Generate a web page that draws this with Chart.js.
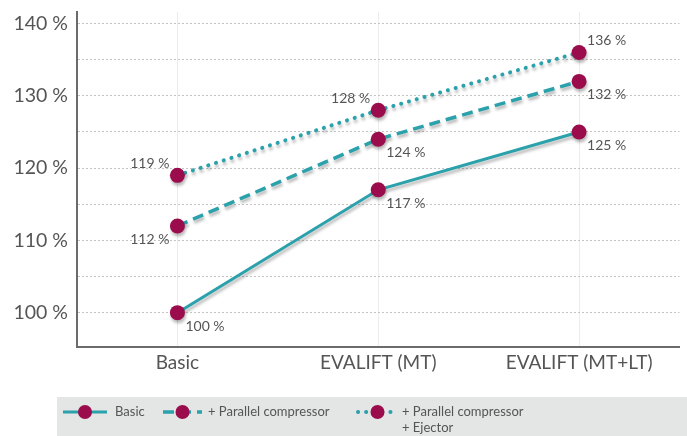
<!DOCTYPE html>
<html>
<head>
<meta charset="utf-8">
<script src="https://cdn.jsdelivr.net/npm/chart.js@4"></script>
<style>
html,body{margin:0;padding:0;background:#fff;}
#wrap{width:687px;height:436px;position:relative;}
</style>
</head>
<body>
<div id="wrap"><canvas id="c" width="687" height="436"></canvas></div>
<script>
const categories = ['Basic', 'EVALIFT (MT)', 'EVALIFT (MT+LT)'];
const basicValues = [100, 117, 125];
const parallelValues = [112, 124, 132];
const ejectorValues = [119, 128, 136];
const seriesLabels = [['Basic'], ['+ Parallel compressor'], ['+ Parallel compressor', '+ Ejector']];
const yTickValues = [100, 105, 110, 115, 120, 125, 130, 135, 140];

const TEAL = '#2ba1ab';
const DOT = '#9a0c4c';
const TEXT = '#555555';
const FONT = 'Lato, "Open Sans", sans-serif';

// label placement per dataset point: t/b = above/below, l/r = left/right
const labelPlacement = [
  ['br', 'br', 'br'],
  ['bl', 'br', 'br'],
  ['tl', 'tl', 'tr']
];

const shadowPlugin = {
  id: 'shadow',
  beforeDatasetDraw(chart) {
    const ctx = chart.ctx;
    ctx.save();
    ctx.shadowColor = 'rgba(0,0,0,0.28)';
    ctx.shadowOffsetX = 1;
    ctx.shadowOffsetY = 3;
    ctx.shadowBlur = 3;
  },
  afterDatasetDraw(chart) {
    chart.ctx.restore();
  }
};

const valueLabels = {
  id: 'valueLabels',
  afterDatasetsDraw(chart) {
    const ctx = chart.ctx;
    ctx.save();
    ctx.font = '14px ' + FONT;
    ctx.fillStyle = TEXT;
    ctx.textBaseline = 'middle';
    chart.data.datasets.forEach((ds, di) => {
      const meta = chart.getDatasetMeta(di);
      meta.data.forEach((pt, i) => {
        const p = labelPlacement[di][i];
        const txt = ds.data[i] + ' %';
        const dy = p[0] === 't' ? -12 : 13.5;
        let x;
        if (p[1] === 'l') { ctx.textAlign = 'right'; x = pt.x - 8; }
        else { ctx.textAlign = 'left'; x = pt.x + 8; }
        ctx.fillText(txt, x, pt.y + dy);
      });
    });
    ctx.restore();
  }
};

const customLegend = {
  id: 'customLegend',
  afterDraw(chart) {
    const ctx = chart.ctx;
    ctx.save();
    ctx.fillStyle = '#e4e5e5';
    ctx.fillRect(57, 397, 630, 39);
    const items = [
      { x0: 63, x1: 107, tx: 115 },
      { x0: 163, x1: 202, tx: 208 },
      { x0: 358, x1: 397, tx: 402 }
    ];
    const y = 412;
    chart.data.datasets.forEach((ds, di) => {
      const it = items[di];
      ctx.save();
      ctx.strokeStyle = ds.borderColor;
      ctx.lineWidth = ds.borderWidth;
      ctx.lineCap = ds.borderCapStyle || 'butt';
      ctx.setLineDash(ds.borderDash || []);
      ctx.beginPath();
      ctx.moveTo(it.x0, y);
      ctx.lineTo(it.x1, y);
      ctx.stroke();
      ctx.restore();
      ctx.beginPath();
      ctx.fillStyle = DOT;
      ctx.arc((it.x0 + it.x1) / 2, y, 7, 0, Math.PI * 2);
      ctx.fill();
      ctx.fillStyle = TEXT;
      ctx.font = '13px ' + FONT;
      ctx.textAlign = 'left';
      ctx.textBaseline = 'middle';
      seriesLabels[di].forEach((line, li) => {
        ctx.fillText(line, it.tx, y + li * 16);
      });
    });
    ctx.restore();
  }
};

const mkDs = (label, data, dash, width, cap) => ({
  label: label,
  data: data,
  borderColor: TEAL,
  borderWidth: width,
  borderDash: dash,
  borderCapStyle: cap,
  pointRadius: 7.5,
  pointHoverRadius: 7.5,
  pointBackgroundColor: DOT,
  pointBorderColor: DOT,
  pointBorderWidth: 0,
  tension: 0,
  fill: false
});

new Chart(document.getElementById('c'), {
  type: 'line',
  data: {
    labels: categories,
    datasets: [
      mkDs(seriesLabels[0].join(' '), basicValues, [], 3, 'butt'),
      mkDs(seriesLabels[1].join(' '), parallelValues, [11, 6], 3.5, 'butt'),
      mkDs(seriesLabels[2].join(' '), ejectorValues, [0.1, 8], 4, 'round')
    ]
  },
  options: {
    responsive: false,
    animation: false,
    devicePixelRatio: 1,
    layout: { padding: { top: 12, right: 1, left: 0, bottom: 0 } },
    plugins: {
      legend: { display: false },
      tooltip: { enabled: false }
    },
    scales: {
      x: {
        offset: true,
        grid: { color: '#ececec', lineWidth: 1, drawTicks: false, offset: false },
        border: { color: '#6b6b6b', width: 2 },
        ticks: { color: TEXT, font: { family: FONT, size: 19 }, padding: 4 },
        afterFit(scale) { scale.height = 89; scale.paddingLeft = 0; scale.paddingRight = 0; }
      },
      y: {
        min: 95.25,
        max: 141.6,
        afterBuildTicks(axis) { axis.ticks = yTickValues.map(v => ({ value: v })); },
        grid: { color: '#c4c4c4', lineWidth: 1, drawTicks: false },
        border: { color: '#6b6b6b', width: 2, dash: [2, 2] },
        ticks: {
          color: TEXT,
          font: { family: FONT, size: 19.5 },
          padding: 9,
          callback: (v) => (v % 10 === 0 ? v + ' %' : '')
        },
        afterFit(scale) { scale.width = 77; scale.paddingTop = 0; scale.paddingBottom = 0; }
      }
    }
  },
  plugins: [shadowPlugin, valueLabels, customLegend]
});
</script>
</body>
</html>
